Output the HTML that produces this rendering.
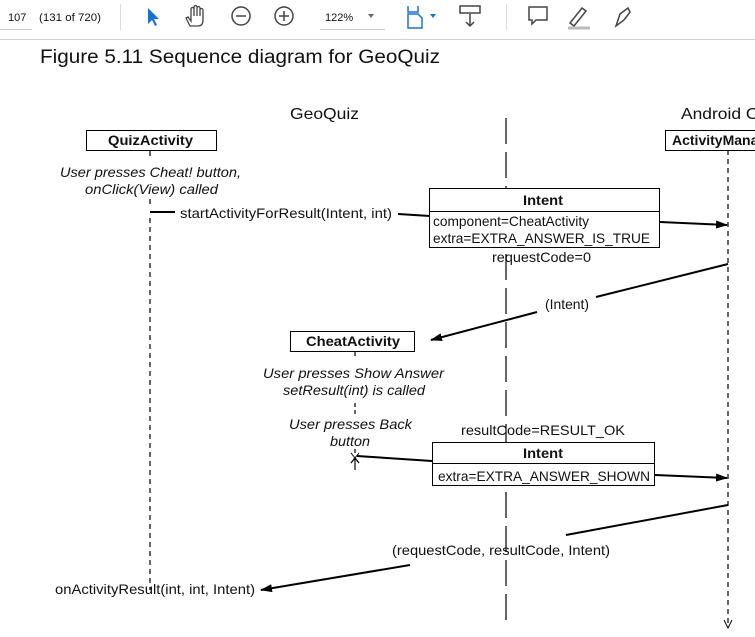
<!DOCTYPE html>
<html><head><style>
html,body{margin:0;padding:0;background:#fff;width:755px;height:637px;overflow:hidden}
svg{display:block}
text{font-family:"Liberation Sans",Arial,sans-serif;fill:#111}
</style></head><body>
<svg width="755" height="637" viewBox="0 0 755 637" xmlns="http://www.w3.org/2000/svg">
<defs>
<marker id="ah" markerWidth="12" markerHeight="8" refX="11" refY="4" orient="auto" markerUnits="userSpaceOnUse">
<path d="M0,0 L12,4 L0,8 z" fill="#000"/></marker>
</defs>
<!-- toolbar -->
<line x1="0" y1="39.5" x2="755" y2="39.5" stroke="#d0d0d0"/>
<text x="8" y="21" font-size="11" fill="#333">107</text>
<text x="39" y="21" font-size="11" fill="#333" textLength="62" lengthAdjust="spacingAndGlyphs">(131 of 720)</text>
<line x1="0" y1="29.5" x2="32" y2="29.5" stroke="#ccc"/>
<line x1="120.5" y1="4" x2="120.5" y2="30" stroke="#ddd"/>
<path d="M148,8 L148,24 L152,20 L155,26 L157,25 L154,19 L159,19 z" fill="#1a73d0"/>
<path d="M190,26 l-4,-8 l2,-1 l3,4 v-12 a1.5,1.5 0 0 1 3,0 v7 v-9 a1.5,1.5 0 0 1 3,0 v9 v-8 a1.5,1.5 0 0 1 3,0 v8 v-6 a1.5,1.5 0 0 1 3,0 v10 q0,6 -5,6 z" fill="none" stroke="#444" stroke-width="1.3"/>
<circle cx="241" cy="16" r="9" fill="none" stroke="#444" stroke-width="1.5"/><line x1="236" y1="16" x2="246" y2="16" stroke="#444" stroke-width="1.5"/>
<circle cx="284" cy="16" r="9" fill="none" stroke="#444" stroke-width="1.5"/><line x1="279" y1="16" x2="289" y2="16" stroke="#444" stroke-width="1.5"/><line x1="284" y1="11" x2="284" y2="21" stroke="#444" stroke-width="1.5"/>
<text x="325" y="21" font-size="11" fill="#333">122%</text>
<path d="M368,14 l6,0 l-3,4 z" fill="#666"/>
<line x1="320" y1="29.5" x2="385" y2="29.5" stroke="#ccc"/>
<path d="M408,6 v6 h10 v-6 M408,14 v14 h14 v-10 l-4,-4 z" fill="none" stroke="#1a73d0" stroke-width="1.5"/>
<path d="M430,14 l6,0 l-3,4 z" fill="#1a73d0"/>
<rect x="460" y="6" width="20" height="7" fill="none" stroke="#444" stroke-width="1.5"/><path d="M470,14 v12 M466,22 l4,4 l4,-4" fill="none" stroke="#444" stroke-width="1.5"/>
<line x1="506.5" y1="4" x2="506.5" y2="30" stroke="#ddd"/>
<path d="M529,7 h18 v13 h-11 l-4,4 v-4 h-3 z" fill="none" stroke="#444" stroke-width="1.5"/>
<path d="M570,23 l12,-15 l4,3 l-12,15 z" fill="none" stroke="#444" stroke-width="1.5"/><line x1="568" y1="28" x2="590" y2="28" stroke="#bbb" stroke-width="3"/>
<path d="M616,26 l4,-12 l8,-6 l2,4 l-6,8 z" fill="none" stroke="#444" stroke-width="1.5"/>
<!-- title -->
<text x="40" y="63" font-size="19" fill="#222" textLength="400" lengthAdjust="spacingAndGlyphs">Figure 5.11  Sequence diagram for GeoQuiz</text>

<text x="290" y="119" font-size="16" textLength="69" lengthAdjust="spacingAndGlyphs">GeoQuiz</text>
<text x="681" y="119" font-size="16" textLength="90" lengthAdjust="spacingAndGlyphs">Android OS</text>

<!-- center divider -->
<path d="M506,118 V620" stroke="#333" stroke-width="1.5" stroke-dasharray="26,8"/>

<!-- lifelines -->
<path d="M150,151 V159 M150,199 V206 M150,218 V590" stroke="#000" stroke-width="1.2" stroke-dasharray="5,4"/>
<path d="M728,150 V628" stroke="#000" stroke-width="1.2" stroke-dasharray="5,4"/>
<path d="M724,620 l4,8 l4,-8" fill="none" stroke="#000"/>
<path d="M355,352 V359 M355,403 V414 M355,449 V454" stroke="#000" stroke-width="1.2" stroke-dasharray="4,3"/>

<!-- boxes -->
<rect x="86.5" y="130.5" width="130" height="20" fill="#fff" stroke="#000"/>
<text x="108" y="145" font-size="14" font-weight="bold" textLength="85" lengthAdjust="spacingAndGlyphs">QuizActivity</text>
<rect x="665.5" y="130.5" width="100" height="20" fill="#fff" stroke="#000"/>
<text x="672" y="145" font-size="14" font-weight="bold">ActivityManager</text>
<rect x="290.5" y="331.5" width="124" height="20" fill="#fff" stroke="#000"/>
<text x="306" y="346" font-size="14" font-weight="bold" textLength="94" lengthAdjust="spacingAndGlyphs">CheatActivity</text>

<text x="60" y="177" font-size="14" font-style="italic" textLength="181" lengthAdjust="spacingAndGlyphs">User presses Cheat! button,</text>
<text x="85" y="194" font-size="14" font-style="italic" textLength="133" lengthAdjust="spacingAndGlyphs">onClick(View) called</text>

<line x1="150" y1="212" x2="175" y2="212" stroke="#000" stroke-width="2"/>
<text x="180" y="218" font-size="14" textLength="212" lengthAdjust="spacingAndGlyphs">startActivityForResult(Intent, int)</text>
<line x1="398" y1="214" x2="430" y2="216" stroke="#000" stroke-width="2"/>

<rect x="429.5" y="188.5" width="230" height="59" fill="#fff" stroke="#000"/>
<line x1="429.5" y1="211.5" x2="659.5" y2="211.5" stroke="#000"/>
<text x="523" y="205" font-size="14" font-weight="bold" textLength="40" lengthAdjust="spacingAndGlyphs">Intent</text>
<text x="433" y="226" font-size="14" textLength="156" lengthAdjust="spacingAndGlyphs">component=CheatActivity</text>
<text x="433" y="243" font-size="14" textLength="217" lengthAdjust="spacingAndGlyphs">extra=EXTRA_ANSWER_IS_TRUE</text>
<line x1="660" y1="222" x2="727" y2="225" stroke="#000" stroke-width="2" marker-end="url(#ah)"/>
<text x="492" y="262" font-size="14" textLength="99" lengthAdjust="spacingAndGlyphs">requestCode=0</text>

<line x1="728" y1="264" x2="596" y2="297" stroke="#000" stroke-width="2"/>
<text x="545" y="309" font-size="14" textLength="44" lengthAdjust="spacingAndGlyphs">(Intent)</text>
<line x1="537" y1="312" x2="431" y2="340" stroke="#000" stroke-width="2" marker-end="url(#ah)"/>

<text x="263" y="378" font-size="14" font-style="italic" textLength="181" lengthAdjust="spacingAndGlyphs">User presses Show Answer</text>
<text x="283" y="395" font-size="14" font-style="italic" textLength="142" lengthAdjust="spacingAndGlyphs">setResult(int) is called</text>
<text x="289" y="429" font-size="14" font-style="italic" textLength="123" lengthAdjust="spacingAndGlyphs">User presses Back</text>
<text x="330" y="446" font-size="14" font-style="italic" textLength="40" lengthAdjust="spacingAndGlyphs">button</text>

<text x="461" y="435" font-size="14" textLength="164" lengthAdjust="spacingAndGlyphs">resultCode=RESULT_OK</text>
<rect x="432.5" y="442.5" width="222" height="43" fill="#fff" stroke="#000"/>
<line x1="432.5" y1="463.5" x2="654.5" y2="463.5" stroke="#000"/>
<text x="523" y="458" font-size="14" font-weight="bold" textLength="40" lengthAdjust="spacingAndGlyphs">Intent</text>
<text x="438" y="481" font-size="14" textLength="212" lengthAdjust="spacingAndGlyphs">extra=EXTRA_ANSWER_SHOWN</text>
<line x1="432" y1="461" x2="357" y2="456" stroke="#000" stroke-width="2"/>
<path d="M351,453 l8,10 M359,453 l-8,10" stroke="#000" stroke-width="1"/>
<path d="M355,470 V458 M351,463 l4,-5 l4,5" fill="none" stroke="#000" stroke-width="1.2"/>
<line x1="655" y1="475" x2="727" y2="478" stroke="#000" stroke-width="2" marker-end="url(#ah)"/>

<line x1="728" y1="505" x2="566" y2="535" stroke="#000" stroke-width="2"/>
<text x="392" y="555" font-size="14" textLength="218" lengthAdjust="spacingAndGlyphs">(requestCode, resultCode, Intent)</text>
<line x1="410" y1="565" x2="261" y2="590" stroke="#000" stroke-width="2" marker-end="url(#ah)"/>
<text x="55" y="594" font-size="14" textLength="200" lengthAdjust="spacingAndGlyphs">onActivityResult(int, int, Intent)</text>
</svg>
</body></html>
